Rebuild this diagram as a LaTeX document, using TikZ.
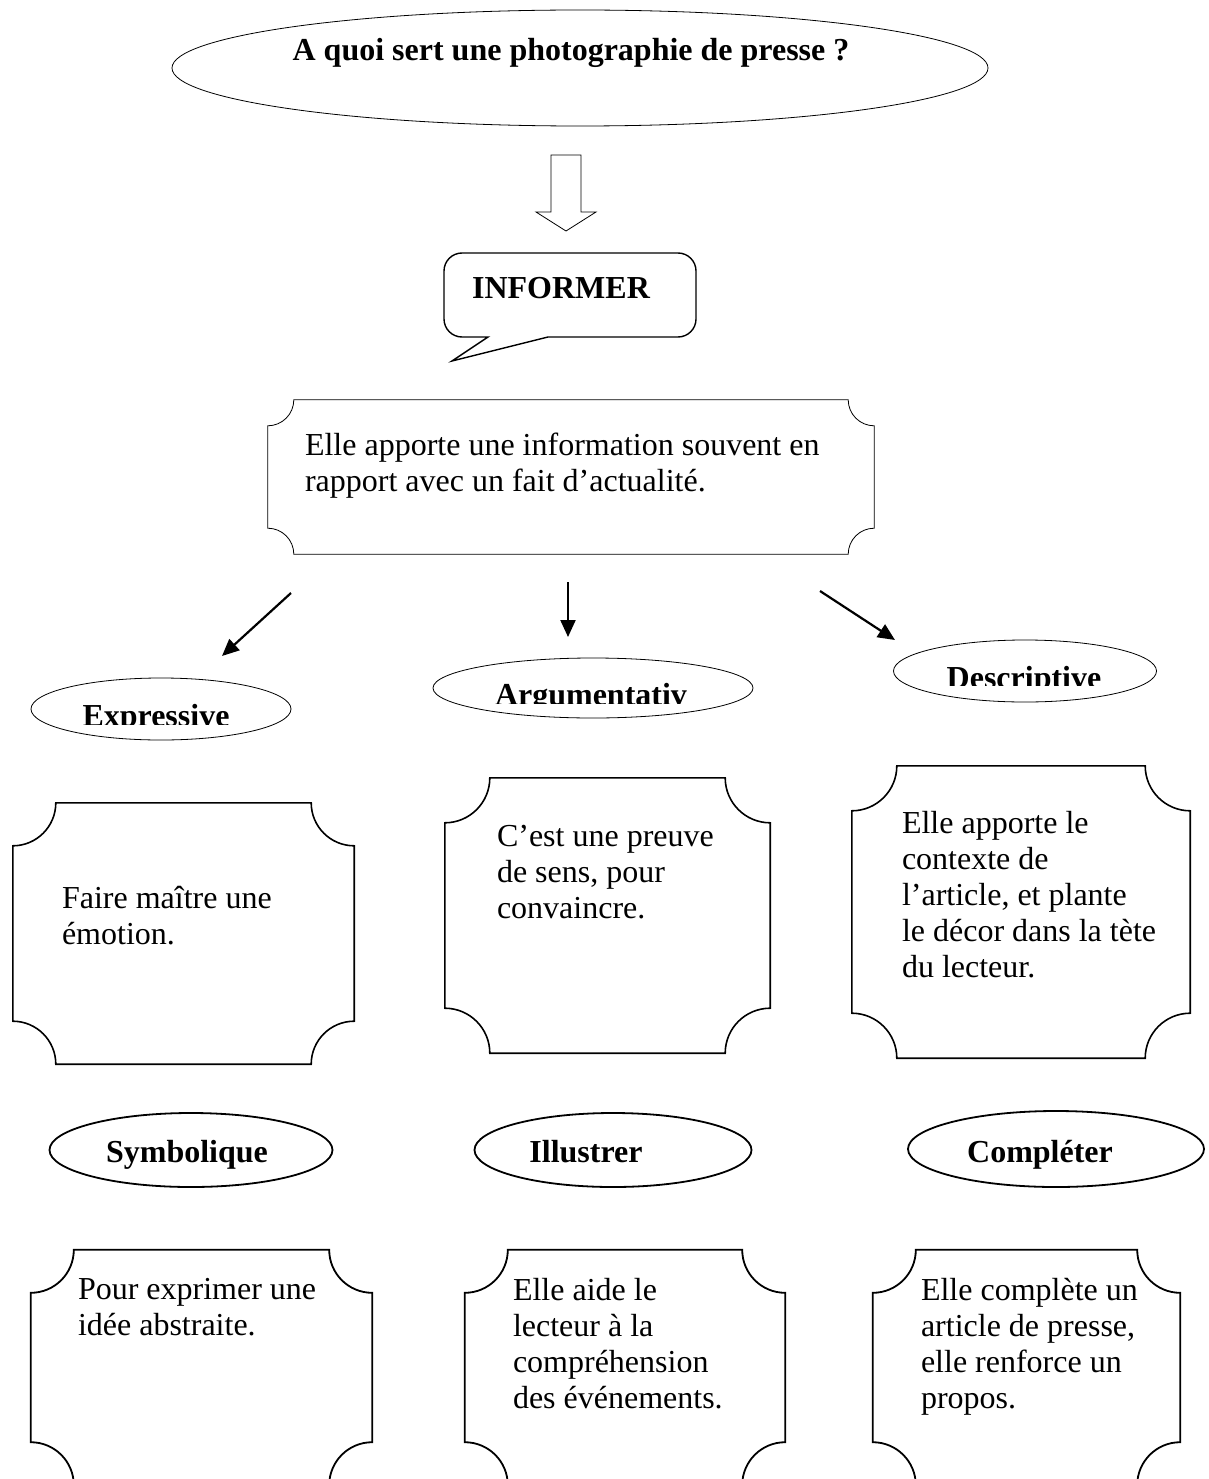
\documentclass[tikz,border=0pt]{standalone}
\usepackage{fontspec}
\setmainfont{Liberation Serif}
\usetikzlibrary{positioning,calc,shapes.geometric,arrows.meta}

% box with concave corners
\newcommand{\plaque}[3][]{%
  \draw[#1] ($(#2.south west)+(#3,0)$) -- ($(#2.south east)+(-#3,0)$)
    arc[start angle=180, end angle=90, radius=#3]
    -- ($(#2.north east)+(0,-#3)$)
    arc[start angle=270, end angle=180, radius=#3]
    -- ($(#2.north west)+(#3,0)$)
    arc[start angle=0, end angle=-90, radius=#3]
    -- ($(#2.south west)+(0,#3)$)
    arc[start angle=90, end angle=0, radius=#3] -- cycle;}

\begin{document}
\begin{tikzpicture}[x=1pt, y=1pt,
	txt/.style={font=\fontsize{32}{36}\selectfont, inner sep=0pt, align=left},
	btxt/.style={font=\fontsize{32}{36}\selectfont\bfseries, inner sep=0pt},
	oval/.style={ellipse, draw, inner sep=0pt},
	boxarea/.style={rectangle, inner sep=0pt},
	arr/.style={-{Triangle[length=17pt,width=15pt]}, line width=2.2pt}]
		\useasboundingbox (0,0) rectangle (1208,-1479);
		\clip (0,0) rectangle (1208,-1479);
		
		\node[oval, line width=0.8pt, minimum width=816pt, minimum height=116pt, btxt, text height=22pt, text depth=36pt] (question) at (580,-68) {A quoi sert une photographie de presse ?\hspace*{18pt}};
		
		\coordinate (arrtop) at (566,-155);
		\draw[line width=0.8pt] (arrtop) ++(-15,0) -- ++(0,-57) -- ++(-15,0) -- ++(30,-19) -- ++(30,19) -- ++(-15,0) -- ++(0,57) -- cycle;
		
		\node[btxt] (informer) at (561,-288) {INFORMER};
		\draw[line width=1.4pt] (488,-337) -- (462,-337) arc[start angle=270, end angle=180, radius=18]
			-- (444,-271) arc[start angle=180, end angle=90, radius=18]
			-- (678,-253) arc[start angle=90, end angle=0, radius=18]
			-- (696,-319) arc[start angle=0, end angle=-90, radius=18]
			-- (548,-337) -- (452,-361) -- cycle;
		
		\node[boxarea, minimum width=606pt, minimum height=154pt] (infobox) at (571,-477) {};
		\plaque[line width=0.8pt]{infobox}{26pt}
		\node[txt, below right=33pt and 37pt of infobox.north west] (infot) {Elle apporte une information souvent en\\rapport avec un fait d’actualité.};
		
		\coordinate (la) at (291,-593);
		\coordinate (lb) at (222,-656);
		\coordinate (ma) at (568,-582);
		\coordinate (mb) at (568,-637);
		\coordinate (ra) at (820,-591);
		\coordinate (rb) at (895,-640);
		\draw[arr] (la) -- (lb);
		\draw[arr] (ma) -- (mb);
		\draw[arr] (ra) -- (rb);
		
		\node[oval, line width=0.8pt, minimum width=260pt, minimum height=62pt] (expressive) at (161,-709) {};
		\begin{scope}
			\clip (31,-724) rectangle (291,-678);
			\node[btxt, anchor=base] (expressivet) at (156,-726) {Expressive};
		\end{scope}
		\node[oval, line width=0.8pt, minimum width=320pt, minimum height=60pt] (argument) at (593,-688) {};
		\begin{scope}
			\clip (433,-703) rectangle (753,-658);
			\node[btxt, anchor=base] (argumentt) at (591,-705) {Argumentativ};
		\end{scope}
		\node[oval, line width=0.8pt, minimum width=263pt, minimum height=62pt] (descriptive) at (1025,-671) {};
		\begin{scope}
			\clip (894,-685) rectangle (1157,-640);
			\node[btxt, anchor=base] (descriptivet) at (1024,-688) {Descriptive};
		\end{scope}
		
		\node[boxarea, minimum width=341pt, minimum height=261pt] (expbox) at (183.5,-933.5) {};
		\plaque[line width=1.6pt]{expbox}{43pt}
		\node[txt, below right=83pt and 49pt of expbox.north west] (expt) {Faire maître une\\émotion.};
		
		\node[boxarea, minimum width=325pt, minimum height=275pt] (argbox) at (607.5,-915.5) {};
		\plaque[line width=1.6pt]{argbox}{45pt}
		\node[txt, below right=47pt and 52pt of argbox.north west] (argt) {C’est une preuve\\de sens, pour\\convaincre.};
		
		\node[boxarea, minimum width=338pt, minimum height=292pt] (descbox) at (1021,-912) {};
		\plaque[line width=1.6pt]{descbox}{45pt}
		\node[txt, below right=45pt and 50pt of descbox.north west] (desct) {Elle apporte le\\contexte de\\l’article, et plante\\le décor dans la tète\\du lecteur.};
		
		\node[oval, line width=1.8pt, minimum width=283pt, minimum height=74pt] (symbolique) at (191,-1150) {};
		\node[btxt, anchor=base] (symboliquet) at (187,-1162) {Symbolique};
		\node[oval, line width=1.8pt, minimum width=277pt, minimum height=74pt] (illustrer) at (613,-1150) {};
		\node[btxt, anchor=base] (illustrert) at (586,-1162) {Illustrer};
		\node[oval, line width=1.8pt, minimum width=296pt, minimum height=76pt] (completer) at (1056,-1149) {};
		\node[btxt, anchor=base] (completert) at (1040,-1162) {Compléter};
		
		\node[boxarea, minimum width=341pt, minimum height=235pt] (symbox) at (201.5,-1367.5) {};
		\plaque[line width=1.8pt]{symbox}{43pt}
		\node[txt, below right=28pt and 47pt of symbox.north west] (symt) {Pour exprimer une\\idée abstraite.};
		
		\node[boxarea, minimum width=320pt, minimum height=235pt] (illbox) at (625,-1367.5) {};
		\plaque[line width=1.8pt]{illbox}{43pt}
		\node[txt, below right=28pt and 48pt of illbox.north west] (illt) {Elle aide le\\lecteur à la\\compréhension\\des événements.};
		
		\node[boxarea, minimum width=307pt, minimum height=235pt] (compbox) at (1026.5,-1367.5) {};
		\plaque[line width=1.8pt]{compbox}{43pt}
		\node[txt, below right=28pt and 48pt of compbox.north west] (compt) {Elle complète un\\article de presse,\\elle renforce un\\propos.};
	\end{tikzpicture}
\end{document}
